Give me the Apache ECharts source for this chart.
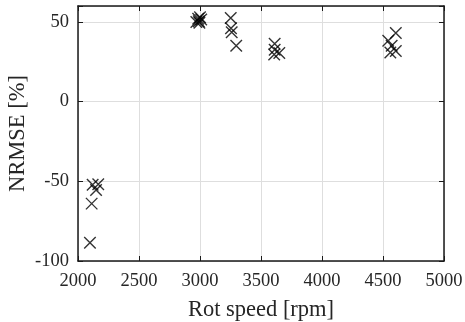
<!DOCTYPE html>
<html>
<head>
<meta charset="utf-8">
<script src="https://cdn.jsdelivr.net/npm/echarts@6/dist/echarts.min.js"></script>
<style>
html,body{margin:0;padding:0;background:#fff;}
#chart{width:465px;height:322px;}
</style>
</head>
<body>
<div id="chart"></div>
<script>
// Data
const rotSpeed = [
  2098, 2112, 2120, 2148, 2166,
  2970, 2985, 2995, 3000, 3010, 2990,
  3252, 3254, 3260, 3297,
  3612, 3612, 3650, 3608,
  4605, 4543, 4571, 4605, 4560
];
const nrmse = [
  -88.6, -64, -52.1, -55.5, -51.8,
  50, 52, 49.5, 53, 51.5, 50.5,
  52.5, 46, 43.5, 35,
  36.3, 32.6, 30.5, 29.5,
  43, 38.2, 35, 31.8, 30.8
];
const xTicks = [2000, 2500, 3000, 3500, 4000, 4500, 5000];
const yTicks = [-100, -50, 0, 50];

const points = rotSpeed.map((x, i) => [x, nrmse[i]]);
const axisCol = '#1a1a1a';
const textCol = '#262626';
const font = '"Liberation Serif", "Times New Roman", serif';

const chart = echarts.init(document.getElementById('chart'), null, {renderer: 'canvas'});
chart.setOption({
  animation: false,
  backgroundColor: '#ffffff',
  grid: {left: 78, right: 21, top: 6, bottom: 61, containLabel: false, outerBoundsMode: 'none'},
  xAxis: [{
    type: 'value', min: xTicks[0], max: xTicks[xTicks.length - 1], interval: 500,
    name: 'Rot speed [rpm]', nameLocation: 'middle', nameGap: 38, nameMoveOverlap: false,
    nameTextStyle: {fontFamily: font, fontSize: 22.5, color: textCol},
    axisLine: {show: true, onZero: false, lineStyle: {color: axisCol, width: 1.5}},
    axisTick: {show: true, inside: true, length: 5, lineStyle: {color: axisCol, width: 1}},
    axisLabel: {fontFamily: font, fontSize: 18.5, color: textCol, margin: 11,
      formatter: v => String(v)},
    splitLine: {show: true, lineStyle: {color: '#dedede', width: 1}}
  }, {
    type: 'value', position: 'top', min: xTicks[0], max: xTicks[xTicks.length - 1], interval: 500,
    axisLine: {show: true, onZero: false, lineStyle: {color: axisCol, width: 1.5}},
    axisTick: {show: true, inside: true, length: 5, lineStyle: {color: axisCol, width: 1}},
    axisLabel: {show: false}, splitLine: {show: false}
  }],
  yAxis: [{
    type: 'value', min: -100, max: 60, interval: 50,
    name: 'NRMSE [%]', nameLocation: 'middle', nameGap: 48, nameMoveOverlap: false,
    nameTextStyle: {fontFamily: font, fontSize: 22.5, color: textCol},
    axisLine: {show: true, onZero: false, lineStyle: {color: axisCol, width: 1.5}},
    axisTick: {show: true, inside: true, length: 5, lineStyle: {color: axisCol, width: 1}},
    axisLabel: {fontFamily: font, fontSize: 18.5, color: textCol, margin: 9,
      formatter: v => yTicks.indexOf(v) >= 0 ? String(v) : ''},
    splitLine: {show: true, lineStyle: {color: '#dedede', width: 1}}
  }, {
    type: 'value', position: 'right', min: -100, max: 60, interval: 50,
    axisLine: {show: true, onZero: false, lineStyle: {color: axisCol, width: 1.5}},
    axisTick: {show: true, inside: true, length: 5, lineStyle: {color: axisCol, width: 1}},
    axisLabel: {show: false}, splitLine: {show: false}
  }],
  series: [{
    type: 'scatter',
    xAxisIndex: 0, yAxisIndex: 0,
    data: points,
    symbol: 'path://M0,0L10,10M10,0L0,10',
    symbolSize: 11.5,
    itemStyle: {color: 'none', borderColor: '#000000', borderWidth: 1.4},
    emphasis: {disabled: true}
  }]
});
</script>
</body>
</html>
